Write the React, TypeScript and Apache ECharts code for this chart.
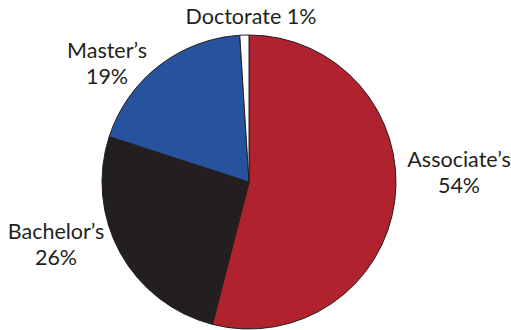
import React, { useEffect, useRef } from "react";
import * as echarts from "echarts";

const categories = ["Associate’s", "Bachelor’s", "Master’s", "Doctorate"];
const values = [54, 26, 19, 1];
const colors = ["#B0222E", "#231F20", "#26529E", "#FFFFFF"];
const singleLine = [false, false, false, true];

// label anchor positions (pixels) — layout only
const labelPos: [number, number][] = [
  [459, 172],
  [56, 244],
  [107, 63],
  [251, 16],
];

export default function App() {
  const ref = useRef<HTMLDivElement>(null);
  useEffect(() => {
    if (!ref.current) return;
    const chart = echarts.init(ref.current, null, { renderer: "svg" });
    chart.setOption({
      animation: false,
      backgroundColor: "#FFFFFF",
      series: [
        {
          type: "pie",
          center: [249, 182],
          radius: 147,
          startAngle: 90,
          clockwise: true,
          data: categories.map((name, i) => ({
            name,
            value: values[i],
            itemStyle: { color: colors[i] },
          })),
          itemStyle: { borderColor: "#231F20", borderWidth: 1 },
          label: {
            show: true,
            position: "outside",
            color: "#231F20",
            fontFamily: "Lato",
            fontSize: 21.5,
            lineHeight: 26,
            align: "center",
            overflow: "none",
            edgeDistance: 0,
            formatter: (p: any) =>
              singleLine[p.dataIndex]
                ? `${p.name} ${p.value}%`
                : `${p.name}\n${p.value}%`,
          },
          labelLine: { show: false },
          labelLayout: (p: any) => ({
            x: labelPos[p.dataIndex][0],
            y: labelPos[p.dataIndex][1],
            align: "center",
            verticalAlign: "middle",
            width: 200,
          }),
          emphasis: { disabled: true },
        },
      ],
    });
    return () => chart.dispose();
  }, []);
  return (
    <div
      ref={ref}
      style={{ position: "fixed", left: 0, top: 0, width: 511, height: 330 }}
    />
  );
}
